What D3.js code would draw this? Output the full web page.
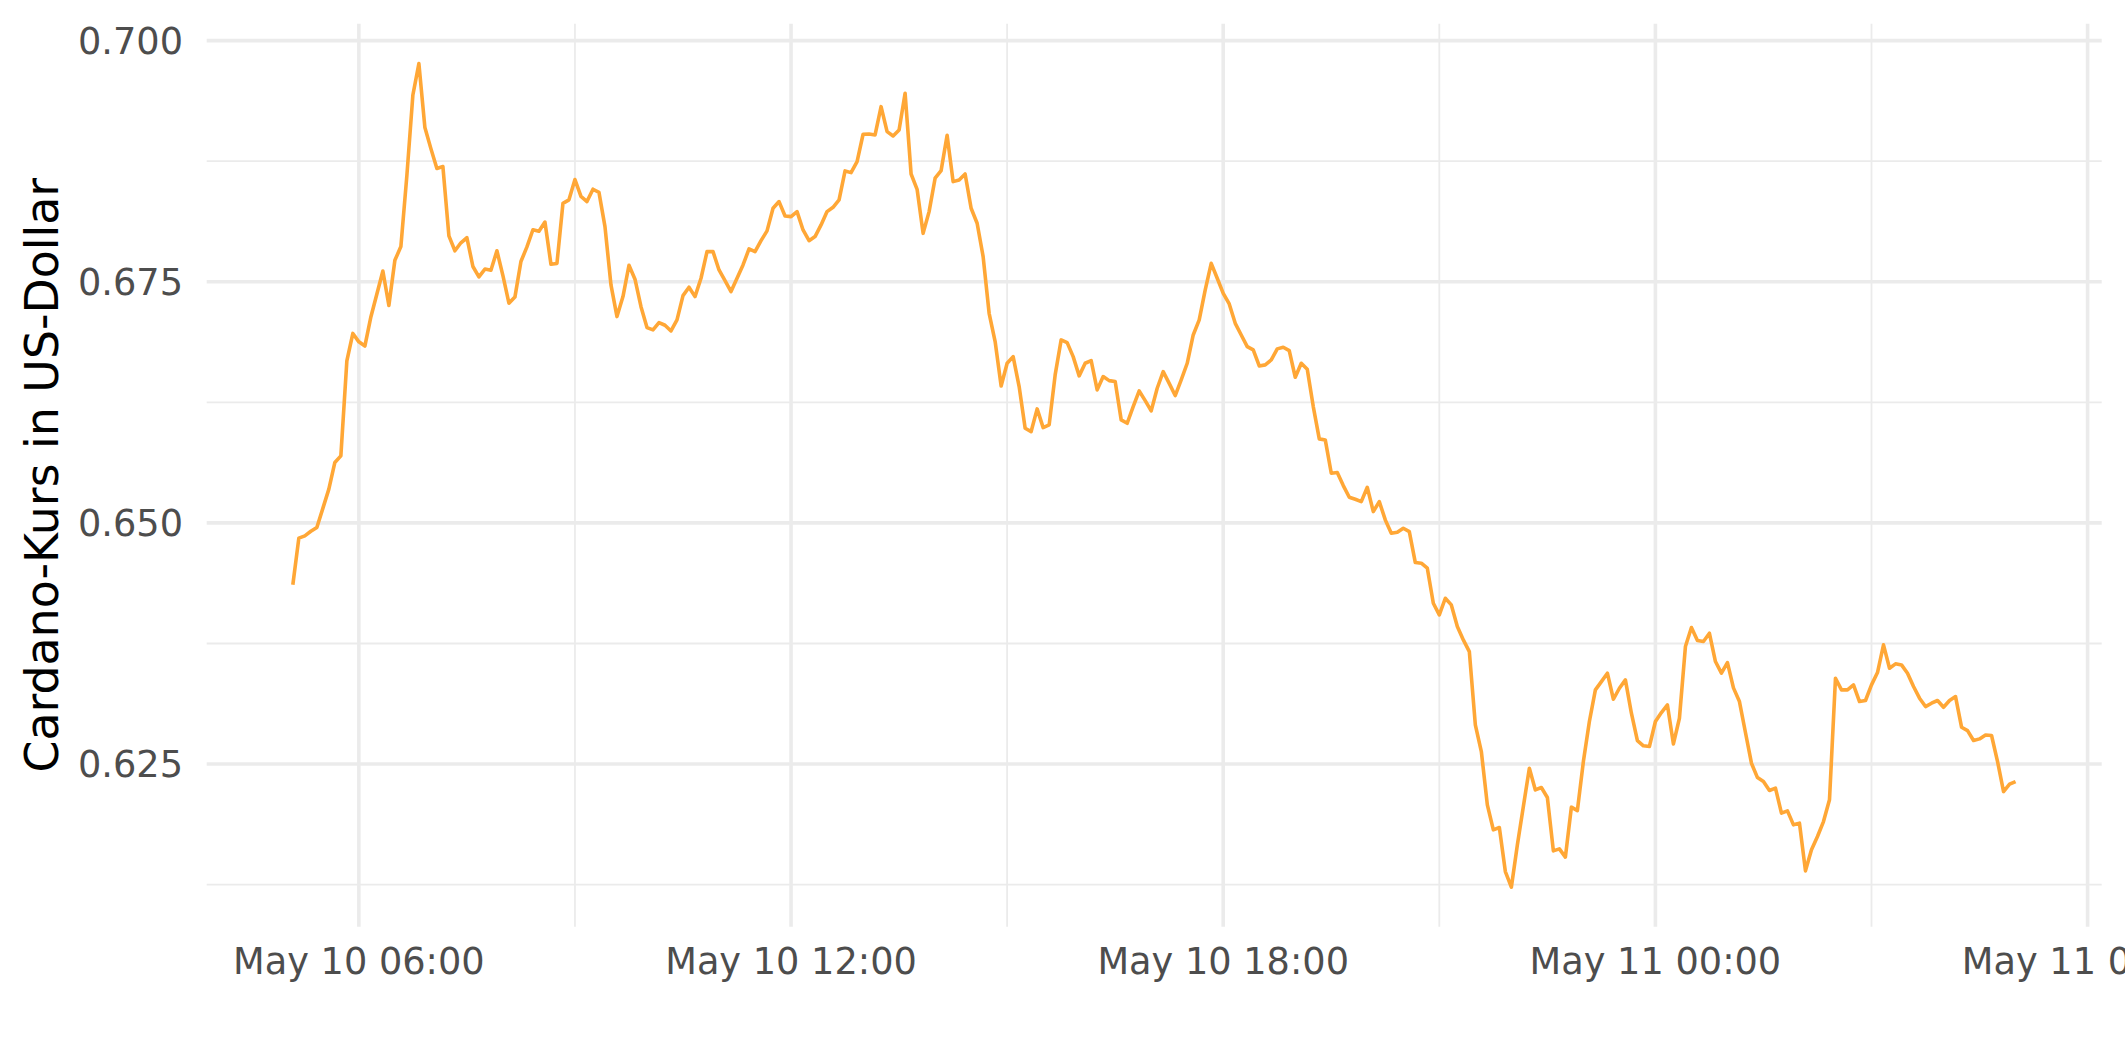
<!DOCTYPE html>
<html><head><meta charset="utf-8">
<script src="https://cdn.jsdelivr.net/npm/d3@7"></script>
<style>html,body{margin:0;padding:0;background:#fff}svg{display:block}</style>
</head><body>
<svg id="chart" width="2125" height="1062"></svg>
<script>
// ---- data ----
const startTime = "2022-05-10T05:05:00Z";
const stepMinutes = 5;
const priceSeg1 = [0.64358,0.64842,0.64866,0.64913,0.64953,0.65151,0.65350,0.65627,0.65695,0.66679,
  0.66964,0.66877,0.66833,0.67135,0.67373,0.67611,0.67254,0.67722,0.67865,0.68603,
  0.69436,0.69761,0.69098,0.68880,0.68674,0.68694,0.67976,0.67821,0.67904,0.67956,
  0.67658,0.67551,0.67631,0.67619,0.67821,0.67563,0.67278,0.67341,0.67710,0.67861,
  0.68039,0.68023,0.68119,0.67682,0.67690,0.68313,0.68349,0.68559,0.68384];
const priceSeg2 = [0.68331,0.68459,0.68427,0.68072,0.67467,0.67139,0.67346,0.67671,0.67526,0.67242,
  0.67025,0.67001,0.67077,0.67049,0.66990,0.67104,0.67356,0.67443,0.67346,0.67536,
  0.67812,0.67812,0.67622,0.67512,0.67398,0.67536,0.67674,0.67840,0.67812,0.67926,
  0.68027,0.68262,0.68331,0.68182,0.68175,0.68227,0.68037,0.67926,0.67968,0.68089,
  0.68227,0.68272,0.68348,0.68649,0.68631,0.68745,0.69029,0.69032];
const priceSeg3 = [0.69022,0.69315,0.69056,0.69011,0.69073,0.69454,0.68617,0.68458,0.68002,0.68227,
  0.68573,0.68652,0.69018,0.68538,0.68555,0.68617,0.68262,0.68106,0.67761,0.67173,
  0.66880,0.66420,0.66655,0.66724,0.66413,0.65981,0.65947,0.66182,0.65988,0.66016,
  0.66534,0.66897,0.66869,0.66724,0.66524,0.66655,0.66683,0.66379,0.66517,0.66475,
  0.66465,0.66068,0.66033,0.66206,0.66368,0.66268,0.66161,0.66396];
const priceSeg4 = [0.66568,0.66447,0.66320,0.66482,0.66655,0.66948,0.67104,0.67415,0.67691,0.67536,
  0.67380,0.67270,0.67069,0.66948,0.66828,0.66793,0.66627,0.66638,0.66689,0.66804,
  0.66821,0.66786,0.66510,0.66655,0.66593,0.66206,0.65871,0.65860,0.65515,0.65522,
  0.65387,0.65266,0.65245,0.65221,0.65369,0.65117,0.65221,0.65031,0.64893,0.64903,
  0.64945,0.64910,0.64589,0.64582,0.64530,0.64167,0.64046,0.64219,0.64150];
const priceSeg5 = [0.63925,0.63787,0.63666,0.62906,0.62630,0.62077,0.61818,0.61842,0.61386,0.61224,
  0.61662,0.62060,0.62457,0.62232,0.62257,0.62153,0.61600,0.61621,0.61535,0.62053,
  0.62018,0.62526,0.62941,0.63269,0.63355,0.63442,0.63172,0.63286,0.63373,0.63027,
  0.62744,0.62689,0.62682,0.62941,0.63034,0.63113,0.62709,0.62975,0.63718,0.63915,
  0.63780,0.63770,0.63856,0.63563,0.63442,0.63552,0.63290,0.63148];
const priceSeg6 = [0.62827,0.62509,0.62360,0.62319,0.62226,0.62250,0.61991,0.62015,0.61870,0.61887,
  0.61393,0.61611,0.61749,0.61904,0.62129,0.63390,0.63269,0.63269,0.63321,0.63148,
  0.63159,0.63321,0.63449,0.63736,0.63494,0.63539,0.63528,0.63442,0.63304,0.63183,
  0.63096,0.63131,0.63159,0.63089,0.63159,0.63200,0.62882,0.62847,0.62744,0.62761,
  0.62802,0.62796,0.62526,0.62215,0.62291,0.62319];

const yTickValues = [0.625, 0.650, 0.675, 0.700];
const yMinorValues = [0.6125, 0.6375, 0.6625, 0.6875];
const yDomain = [0.60813, 0.70175];
const xTickValues = ["2022-05-10T06:00:00Z","2022-05-10T12:00:00Z","2022-05-10T18:00:00Z","2022-05-11T00:00:00Z","2022-05-11T06:00:00Z"];
const xMinorValues = ["2022-05-10T09:00:00Z","2022-05-10T15:00:00Z","2022-05-10T21:00:00Z","2022-05-11T03:00:00Z"];
const yTitle = "Cardano-Kurs in US-Dollar";

// ---- build ----
const prices = [].concat(priceSeg1, priceSeg2, priceSeg3, priceSeg4, priceSeg5, priceSeg6);
const t0 = new Date(startTime).getTime();
const data = prices.map((v, i) => ({ t: new Date(t0 + i * stepMinutes * 60000), v }));

const panel = { left: 206.7, right: 2101.7, top: 23.7, bottom: 926.8 };
const svg = d3.select("#chart");
const font = "'DejaVu Sans', 'Liberation Sans', sans-serif";

const ext = d3.extent(data, d => d.t.getTime());
const pad = (ext[1] - ext[0]) * 0.05;
const x = d3.scaleUtc().domain([new Date(ext[0] - pad), new Date(ext[1] + pad)]).range([panel.left, panel.right]);
const y = d3.scaleLinear().domain(yDomain).range([panel.bottom, panel.top]);

const grid = svg.append("g");
// minor grid
grid.selectAll(".ym").data(yMinorValues).join("line")
  .attr("x1", panel.left).attr("x2", panel.right)
  .attr("y1", d => y(d)).attr("y2", d => y(d))
  .attr("stroke", "#EBEBEB").attr("stroke-width", 1.8);
grid.selectAll(".xm").data(xMinorValues.map(s => new Date(s))).join("line")
  .attr("y1", panel.top).attr("y2", panel.bottom)
  .attr("x1", d => x(d)).attr("x2", d => x(d))
  .attr("stroke", "#EBEBEB").attr("stroke-width", 1.8);
// major grid
grid.selectAll(".yM").data(yTickValues).join("line")
  .attr("x1", panel.left).attr("x2", panel.right)
  .attr("y1", d => y(d)).attr("y2", d => y(d))
  .attr("stroke", "#EBEBEB").attr("stroke-width", 3.6);
grid.selectAll(".xM").data(xTickValues.map(s => new Date(s))).join("line")
  .attr("y1", panel.top).attr("y2", panel.bottom)
  .attr("x1", d => x(d)).attr("x2", d => x(d))
  .attr("stroke", "#EBEBEB").attr("stroke-width", 3.6);

// line
const line = d3.line().x(d => x(d.t)).y(d => y(d.v));
svg.append("path").datum(data)
  .attr("d", line)
  .attr("fill", "none")
  .attr("stroke", "#FFA736")
  .attr("stroke-width", 3.6)
  .attr("stroke-linejoin", "round");

// y axis labels
const yFmt = d3.format(".3f");
svg.append("g").selectAll("text").data(yTickValues).join("text")
  .attr("x", 183).attr("y", d => y(d) + 13.2)
  .attr("text-anchor", "end")
  .attr("font-family", font).attr("font-size", "36.7px").attr("fill", "#4D4D4D")
  .text(d => yFmt(d));

// x axis labels (the last one runs off the right edge, as in the reference)
const xFmt = d3.utcFormat("%b %d %H:%M");
svg.append("g").selectAll("text").data(xTickValues.map(s => new Date(s))).join("text")
  .attr("x", d => x(d)).attr("y", 974)
  .attr("text-anchor", "middle")
  .attr("font-family", font).attr("font-size", "36.7px").attr("fill", "#4D4D4D")
  .text(d => xFmt(d));

// y title
svg.append("text")
  .attr("transform", `translate(58,${(panel.top + panel.bottom) / 2}) rotate(-90)`)
  .attr("text-anchor", "middle")
  .attr("font-family", font).attr("font-size", "45.8px").attr("fill", "#000")
  .text(yTitle);
</script>
</body></html>
